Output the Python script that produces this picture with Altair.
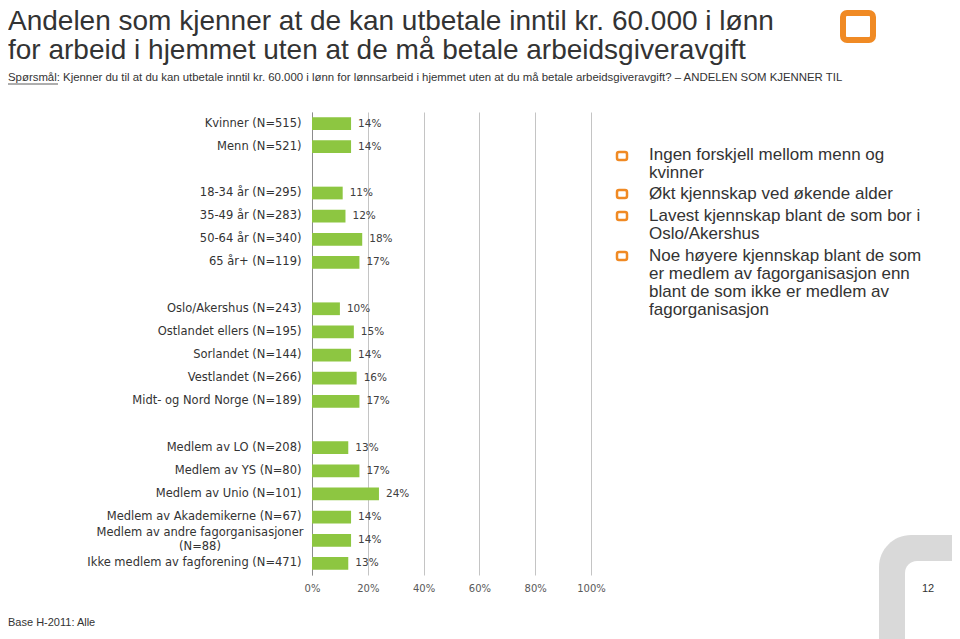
import altair as alt
import pandas as pd

categories = [
    "Kvinner (N=515)", "Menn (N=521)", "gap1",
    "18-34 år (N=295)", "35-49 år (N=283)", "50-64 år (N=340)", "65 år+ (N=119)", "gap2",
    "Oslo/Akershus (N=243)", "Ostlandet ellers (N=195)", "Sorlandet (N=144)",
    "Vestlandet (N=266)", "Midt- og Nord Norge (N=189)", "gap3",
    "Medlem av LO (N=208)", "Medlem av YS (N=80)", "Medlem av Unio (N=101)",
    "Medlem av Akademikerne (N=67)",
    "Medlem av andre fagorganisasjoner|(N=88)",
    "Ikke medlem av fagforening (N=471)",
]
bar_categories = [c for c in categories if not c.startswith("gap")]
values = [14, 14, 11, 12, 18, 17, 10, 15, 14, 16, 17, 13, 17, 24, 14, 14, 13]
x_ticks = [0, 20, 40, 60, 80, 100]

title_lines = ["Andelen som kjenner at de kan utbetale inntil kr. 60.000 i lønn",
               "for arbeid i hjemmet uten at de må betale arbeidsgiveravgift"]
question_label = "Spørsmål"
question_text = (": Kjenner du til at du kan utbetale inntil kr. 60.000 i lønn for lønnsarbeid "
                 "i hjemmet uten at du må betale arbeidsgiveravgift? – ANDELEN SOM KJENNER TIL")
bullet_lines = [
    "Ingen forskjell mellom menn og", "kvinner",
    "Økt kjennskap ved økende alder",
    "Lavest kjennskap blant de som bor i", "Oslo/Akershus",
    "Noe høyere kjennskap blant de som", "er medlem av fagorganisasjon enn",
    "blant de som ikke er medlem av", "fagorganisasjon",
]
footer_text = "Base H-2011: Alle"
page_number = "12"

df = pd.DataFrame({"cat": bar_categories, "val": values})
df["lab"] = [f"{v}%" for v in values]

W, H = 279, 463
GREEN = "#8DC641"
ORANGE = "#F08A24"
TXT = "#333333"

y_enc = alt.Y("cat:N", sort=categories,
              scale=alt.Scale(domain=categories, paddingInner=0.45, paddingOuter=0.225),
              axis=alt.Axis(title=None, ticks=False, domainColor="#8C8C8C", domainWidth=1,
                            labelFont="DejaVu Sans", labelFontSize=11.5, labelColor=TXT,
                            labelPadding=11, labelLimit=400,
                            labelExpr="(indexof(datum.value, 'gap') == 0 || indexof(datum.value, '|') >= 0) ? '' : datum.value"))
x_enc = alt.X("val:Q", scale=alt.Scale(domain=[0, 100], nice=False),
              axis=alt.Axis(title=None, values=x_ticks, grid=True, gridColor="#C4C4C4",
                            domain=False, ticks=False, labelFont="DejaVu Sans", labelFontSize=10,
                            labelColor="#595959", labelPadding=8, labelFlush=False,
                            labelExpr="datum.value + '%'"))

bars = alt.Chart(df).mark_bar(color=GREEN).encode(x=x_enc, y=y_enc)
labels = alt.Chart(df).mark_text(align="left", baseline="middle", dx=7,
                                 font="DejaVu Sans", fontSize=10.5, color="#404040").encode(
    x="val:Q", y=alt.Y("cat:N", sort=categories), text="lab:N")

one = pd.DataFrame({"a": [0]})


def txt(text, x, y, **kw):
    return alt.Chart(one).mark_text(text=text, **kw).encode(x=alt.value(x), y=alt.value(y))


def rect(x, x2, y, y2, **kw):
    return alt.Chart(one).mark_rect(**kw).encode(
        x=alt.value(x), x2=alt.value(x2), y=alt.value(y), y2=alt.value(y2))


X0, Y0 = 312, 112  # page position of plot origin

# two-line category label, centred block left of the axis
two_line = categories[18].split("|")
cat2 = alt.layer(
    txt(two_line[0], 200 - X0, 533 - Y0, align="center", baseline="middle",
        font="DejaVu Sans", fontSize=11.5, color=TXT),
    txt(two_line[1], 200 - X0, 547 - Y0, align="center", baseline="middle",
        font="DejaVu Sans", fontSize=11.5, color=TXT),
)

title = alt.layer(*[
    txt(t, 8 - X0, by - Y0, align="left", baseline="alphabetic",
        font="Liberation Sans", fontSize=28, color=TXT)
    for t, by in zip(title_lines, [30, 59])])
q2 = txt(question_label + question_text, 8 - X0, 78 - Y0, align="left", baseline="middle",
         font="Liberation Sans", fontSize=11.4, color=TXT)
underline = alt.Chart(one).mark_rule(color=TXT, strokeWidth=0.8).encode(
    x=alt.value(8 - X0), x2=alt.value(58 - X0), y=alt.value(84 - Y0))

logo = rect(843 - X0, 873 - X0, 13 - Y0, 40 - Y0, fill="white", stroke=ORANGE,
            strokeWidth=6, cornerRadius=4)

bullet_y = [156, 194, 216, 256]
bullets = alt.layer(*[
    rect(617 - X0, 627 - X0, by - 4 - Y0, by + 4 - Y0, fill="white", stroke=ORANGE,
         strokeWidth=2.5, cornerRadius=2) for by in bullet_y])

line_y = [155, 173, 194, 216, 234, 256, 274, 292, 310]
btext = alt.layer(*[
    txt(t, 649 - X0, ly - Y0, align="left", baseline="middle", font="Liberation Sans",
        fontSize=17, color=TXT) for t, ly in zip(bullet_lines, line_y)])

corner_outer = rect(879 - X0, 960 - X0, 535 - Y0, 660 - Y0, fill="#D9D9D9",
                    cornerRadiusTopLeft=32)
corner_inner = rect(905 - X0, 980 - X0, 561 - Y0, 680 - Y0, fill="white",
                    cornerRadiusTopLeft=12)
pnum = txt(page_number, 928 - X0, 589 - Y0, align="center", baseline="middle",
           font="Liberation Sans", fontSize=11, color=TXT)
footer = txt(footer_text, 8 - X0, 623 - Y0, align="left", baseline="middle",
             font="Liberation Sans", fontSize=11, color=TXT)

chart = alt.layer(
    corner_outer, corner_inner, bars, labels, cat2, title, q2, underline, logo, bullets, btext,
    pnum, footer,
).properties(
    width=W, height=H,
    autosize=alt.AutoSizeParams(type="none"),
    padding={"left": X0 - 8, "top": Y0 - 8, "right": 944 - (X0 - 8) - W, "bottom": 631 - (Y0 - 8) - H},
    background="white",
).configure_view(stroke=None)

chart.save("out.html", embed_options={"renderer": "svg", "actions": False})
